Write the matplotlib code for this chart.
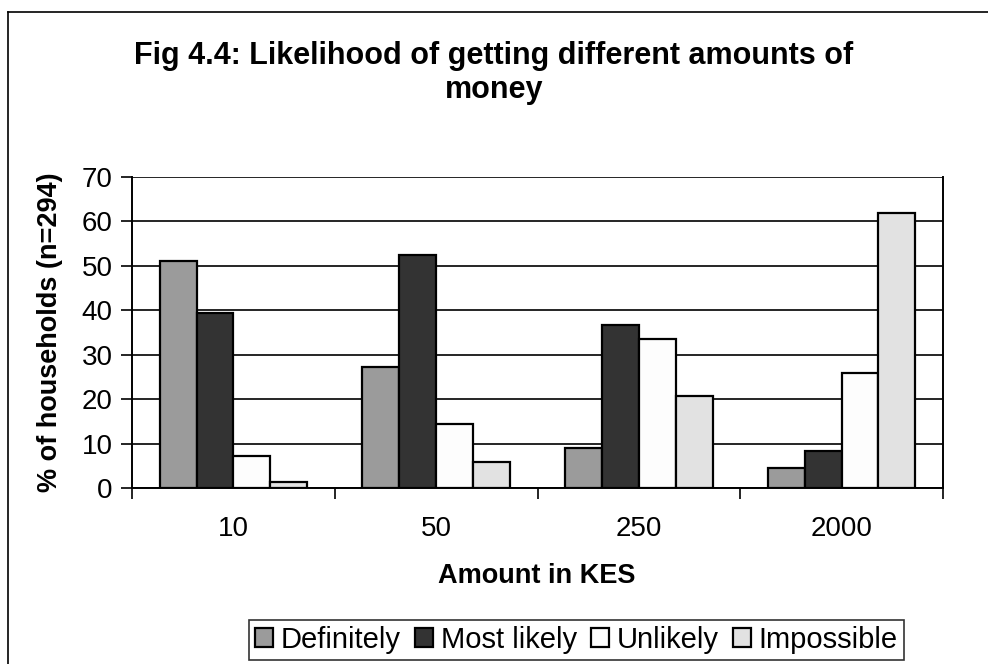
import matplotlib
matplotlib.use("Agg")
import matplotlib.pyplot as plt
from matplotlib.lines import Line2D
import numpy as np

plt.rcParams['font.family'] = ['Liberation Sans', 'DejaVu Sans']

amounts = ["10", "50", "250", "2000"]
series_names = ["Definitely", "Most likely", "Unlikely", "Impossible"]
definitely = [51.2, 27.2, 8.9, 4.4]
most_likely = [39.3, 52.5, 36.7, 8.4]
unlikely = [7.2, 14.4, 33.5, 25.8]
impossible = [1.3, 5.9, 20.8, 61.9]
colors = ["#9b9b9b", "#333333", "#fdfdfd", "#e2e2e2"]
y_ticks = [0, 10, 20, 30, 40, 50, 60, 70]

W, H = 988, 664
fig = plt.figure(figsize=(W / 100, H / 100), dpi=100)
ax = fig.add_axes([132 / W, 1 - 488 / H, (943 - 132) / W, (488 - 177) / H])

n_groups = len(amounts)
n_series = len(series_names)
gap = 1.5
width = 1.0 / (n_series + gap)
x = np.arange(n_groups)
all_series = [definitely, most_likely, unlikely, impossible]
for i, (vals, name, col) in enumerate(zip(all_series, series_names, colors)):
    offs = x - 0.5 + gap / 2 * width + (i + 0.5) * width
    ax.bar(offs, vals, width=width, color=col, edgecolor="black",
           linewidth=1.6, label=name, zorder=3)

ax.set_xlim(-0.5, n_groups - 0.5)
ax.set_ylim(0, 70)
ax.set_yticks(y_ticks)
ax.set_yticklabels([str(t) for t in y_ticks], fontsize=20)
ax.yaxis.grid(True, color="black", linewidth=1.2, zorder=0)
ax.set_axisbelow(True)

# category labels centred, ticks at group boundaries
ax.set_xticks(np.arange(n_groups + 1) - 0.5)
ax.set_xticklabels([])
ax.set_xticks(x, minor=True)
ax.set_xticklabels(amounts, minor=True, fontsize=20)
ax.tick_params(axis="x", which="minor", length=0, pad=20)
ax.tick_params(axis="x", which="major", length=8, width=1.2, direction="out")
ax.tick_params(axis="y", length=8, width=1.2, direction="out", pad=6)

ax.spines["top"].set_visible(False)
for s in ["left", "right", "bottom"]:
    ax.spines[s].set_linewidth(1.4)

fig.text(50 / W, 1 - 332 / H, "% of households (n=294)", rotation=90,
         ha="center", va="center", fontsize=19.5, fontweight="bold")
fig.text(537 / W, 1 - 576 / H, "Amount in KES",
         ha="center", va="center", fontsize=19.5, fontweight="bold")

fig.text(494 / W, 1 - 73 / H, "Fig 4.4: Likelihood of getting different amounts of\nmoney",
         ha="center", va="center", fontsize=22, fontweight="bold",
         linespacing=1.2)

leg = ax.legend(loc="center", bbox_to_anchor=(576.5 / W, 1 - 640 / H),
                bbox_transform=fig.transFigure, ncol=4, fontsize=21,
                frameon=True, fancybox=False, edgecolor="black",
                handlelength=0.62, handleheight=0.62, handletextpad=0.25,
                columnspacing=0.5, borderpad=0.22, borderaxespad=0)
leg.get_frame().set_linewidth(1.2)

# chart area border (top and left edges)
fig.add_artist(Line2D([8 / W, 1.0], [1 - 12 / H, 1 - 12 / H],
                      color="black", linewidth=1.2, transform=fig.transFigure))
fig.add_artist(Line2D([8 / W, 8 / W], [0, 1 - 12 / H],
                      color="black", linewidth=1.2, transform=fig.transFigure))

fig.savefig("out.png", dpi=100, facecolor="white")
